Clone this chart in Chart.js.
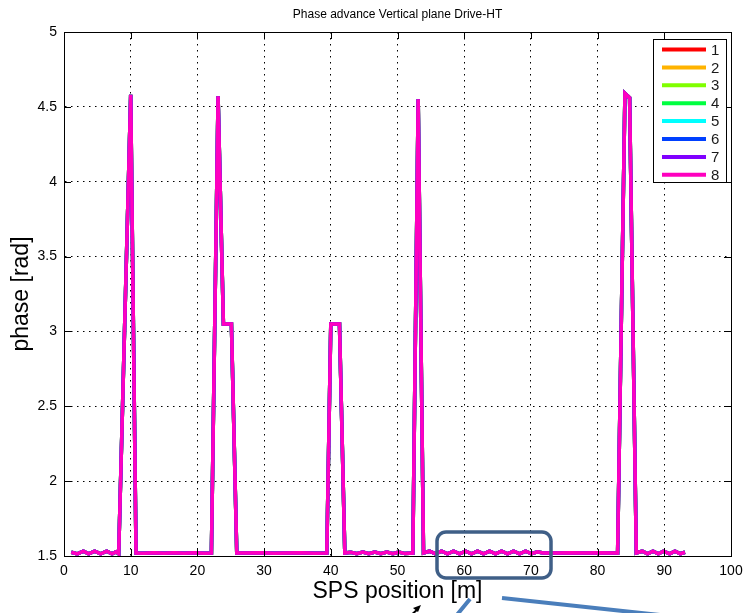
<!DOCTYPE html>
<html>
<head>
<meta charset="utf-8">
<script src="https://cdn.jsdelivr.net/npm/chart.js@4"></script>
<style>
  html, body { margin: 0; padding: 0; background: #fff; }
  #wrap { width: 744px; height: 613px; }
</style>
</head>
<body>
<div id="wrap"><canvas id="phaseChart" width="744" height="613"></canvas></div>
<script>
// SPS position [m] of each sample
const positions = [
  1.1, 2.0, 2.9, 3.7, 4.6, 5.5, 6.4, 7.2, 7.8, 8.2, 10.0, 10.8,
  12.0, 13.5, 15.0, 16.5, 18.0, 19.5, 21.0, 22.1,
  23.1, 23.9, 25.1, 25.9,
  27.5, 29.5, 31.5, 33.5, 35.5, 37.5, 39.4,
  40.0, 41.3, 42.1,
  43.0, 43.9, 44.8, 45.7, 46.6, 47.5, 48.4, 49.3, 50.2, 51.1, 52.3,
  53.1, 53.9,
  54.8, 55.7, 56.6, 57.5, 58.4, 59.3, 60.2, 61.1, 62.0, 62.9, 63.8, 64.7,
  65.6, 66.5, 67.4, 68.3, 69.2, 70.1, 71.0, 71.8,
  74.0, 76.0, 78.0, 80.0, 82.0, 83.0,
  84.1, 84.8, 85.8,
  86.7, 87.5, 88.3, 89.1, 89.9, 90.8, 91.6, 92.4, 93.1
];

// phase [rad] - all 8 drive signals give practically the same curve
const phase = [
  1.525, 1.514, 1.532, 1.515, 1.532, 1.515, 1.532, 1.515, 1.528, 1.515, 4.58, 1.52,
  1.518, 1.522, 1.518, 1.522, 1.518, 1.522, 1.518, 1.52,
  4.57, 3.05, 3.05, 1.52,
  1.52, 1.522, 1.518, 1.52, 1.522, 1.518, 1.52,
  3.05, 3.05, 1.52,
  1.525, 1.516, 1.527, 1.516, 1.527, 1.516, 1.527, 1.516, 1.527, 1.516, 1.52,
  4.55, 1.52,
  1.532, 1.515, 1.532, 1.515, 1.532, 1.515, 1.532, 1.515, 1.532, 1.515, 1.532, 1.515,
  1.532, 1.515, 1.532, 1.515, 1.532, 1.515, 1.528, 1.52,
  1.52, 1.522, 1.52, 1.522, 1.52, 1.52,
  4.59, 4.56, 1.52,
  1.532, 1.515, 1.532, 1.515, 1.532, 1.515, 1.532, 1.515, 1.525
];

const seriesNames = ["1", "2", "3", "4", "5", "6", "7", "8"];
const seriesColors = ["#ff0000", "#ffb300", "#80ff00", "#00ff40", "#00ffff", "#0040ff", "#8000ff", "#ff00bf"];

const xTicks = [0, 10, 20, 30, 40, 50, 60, 70, 80, 90, 100];
const yTicks = [1.5, 2, 2.5, 3, 3.5, 4, 4.5, 5];

const FONT = "'Liberation Sans', Arial, Helvetica, sans-serif";

const points = positions.map((x, i) => ({ x: x, y: phase[i] }));

// box, inward ticks, legend and slide annotations (matlab look)
const matlabFrame = {
  id: "matlabFrame",
  afterDraw(chart) {
    const ctx = chart.ctx;
    const a = chart.chartArea;
    const xs = chart.scales.x;
    const ys = chart.scales.y;
    ctx.save();
    ctx.strokeStyle = "#000";
    ctx.lineWidth = 1;
    ctx.strokeRect(a.left + 0.5, a.top + 0.5, a.right - a.left, a.bottom - a.top);

    // inward ticks
    ctx.beginPath();
    xTicks.slice(1, -1).forEach((v) => {
      const px = Math.round(xs.getPixelForValue(v)) + 0.5;
      ctx.moveTo(px, a.top); ctx.lineTo(px, a.top + 7);
      ctx.moveTo(px, a.bottom); ctx.lineTo(px, a.bottom - 7);
    });
    yTicks.slice(1, -1).forEach((v) => {
      const py = Math.round(ys.getPixelForValue(v)) + 0.5;
      ctx.moveTo(a.left, py); ctx.lineTo(a.left + 7, py);
      ctx.moveTo(a.right, py); ctx.lineTo(a.right - 7, py);
    });
    ctx.stroke();

    // legend box
    const lx = 653, ly = 39, lw = 73, lh = 143;
    ctx.fillStyle = "#fff";
    ctx.fillRect(lx, ly, lw, lh);
    ctx.strokeRect(lx + 0.5, ly + 0.5, lw, lh);
    ctx.font = "15px " + FONT;
    ctx.textBaseline = "middle";
    ctx.textAlign = "left";
    chart.data.datasets.forEach((ds, i) => {
      const y = ly + 10.5 + i * 17.9;
      ctx.strokeStyle = ds.borderColor;
      ctx.lineWidth = 4;
      ctx.beginPath();
      ctx.moveTo(662, y);
      ctx.lineTo(706, y);
      ctx.stroke();
      ctx.fillStyle = "#1a1a1a";
      ctx.fillText(ds.label, 711, y + 1);
    });

    // slide annotations drawn on top of the figure
    ctx.strokeStyle = "#3f5f87";
    ctx.lineWidth = 3.5;
    ctx.beginPath();
    ctx.roundRect(437, 532, 114, 46, 9);
    ctx.stroke();

    ctx.strokeStyle = "#4a7ebb";
    ctx.lineWidth = 4;
    ctx.beginPath();
    ctx.moveTo(502, 598);
    ctx.lineTo(660, 615);
    ctx.moveTo(470, 599);
    ctx.lineTo(456, 616);
    ctx.stroke();

    ctx.strokeStyle = "#000";
    ctx.fillStyle = "#000";
    ctx.lineWidth = 2;
    ctx.beginPath();
    ctx.moveTo(410, 616);
    ctx.lineTo(418, 609);
    ctx.stroke();
    ctx.beginPath();
    ctx.moveTo(421, 605);
    ctx.lineTo(413, 608);
    ctx.lineTo(418, 612);
    ctx.closePath();
    ctx.fill();
    ctx.restore();
  }
};

const ctx = document.getElementById("phaseChart").getContext("2d");
const phaseChart = new Chart(ctx, {
  type: "line",
  data: {
    datasets: seriesNames.map((name, i) => ({
      label: name,
      data: points,
      borderColor: seriesColors[i],
      backgroundColor: seriesColors[i],
      borderWidth: 3.5,
      pointRadius: 0,
      tension: 0,
      fill: false,
      order: seriesNames.length - 1 - i, // last series drawn on top
    })),
  },
  options: {
    responsive: false,
    animation: false,
    layout: { padding: { left: 0, right: 13, top: 0, bottom: 0 } },
    plugins: {
      legend: { display: false },
      tooltip: { enabled: false },
      title: {
        display: true,
        text: "Phase advance Vertical plane Drive-HT",
        fullSize: false,
        color: "#000",
        font: { family: FONT, size: 12, weight: "normal" },
        padding: { top: 7, bottom: 10.6 },
      },
    },
    scales: {
      x: {
        type: "linear",
        min: 0,
        max: 100,
        afterBuildTicks: (scale) => { scale.ticks = xTicks.map((v) => ({ value: v })); },
        afterFit: (scale) => {
          scale.height = 57;
          scale.paddingLeft = 0;
          scale.paddingRight = 0;
        },
        ticks: {
          autoSkip: false,
          maxRotation: 0,
          padding: 7,
          color: "#000",
          font: { family: FONT, size: 14 },
        },
        grid: { color: "#000", lineWidth: 1, drawTicks: false },
        border: { display: true, color: "#000", width: 1, dash: [1.5, 4.5] },
        title: {
          display: true,
          text: "SPS position [m]",
          color: "#000",
          font: { family: FONT, size: 23 },
          padding: { top: 0, bottom: 8 },
        },
      },
      y: {
        type: "linear",
        min: 1.5,
        max: 5,
        afterBuildTicks: (scale) => { scale.ticks = yTicks.map((v) => ({ value: v })); },
        afterFit: (scale) => { scale.width = 64; },
        ticks: {
          autoSkip: false,
          padding: 7,
          color: "#000",
          font: { family: FONT, size: 14 },
          callback: (v) => String(v),
        },
        grid: { color: "#000", lineWidth: 1, drawTicks: false },
        border: { display: true, color: "#000", width: 1, dash: [1.5, 4.5] },
        title: {
          display: true,
          text: "phase [rad]",
          color: "#000",
          font: { family: FONT, size: 23 },
          padding: { top: 8, bottom: 0 },
        },
      },
    },
  },
  plugins: [matlabFrame],
});
</script>
</body>
</html>
